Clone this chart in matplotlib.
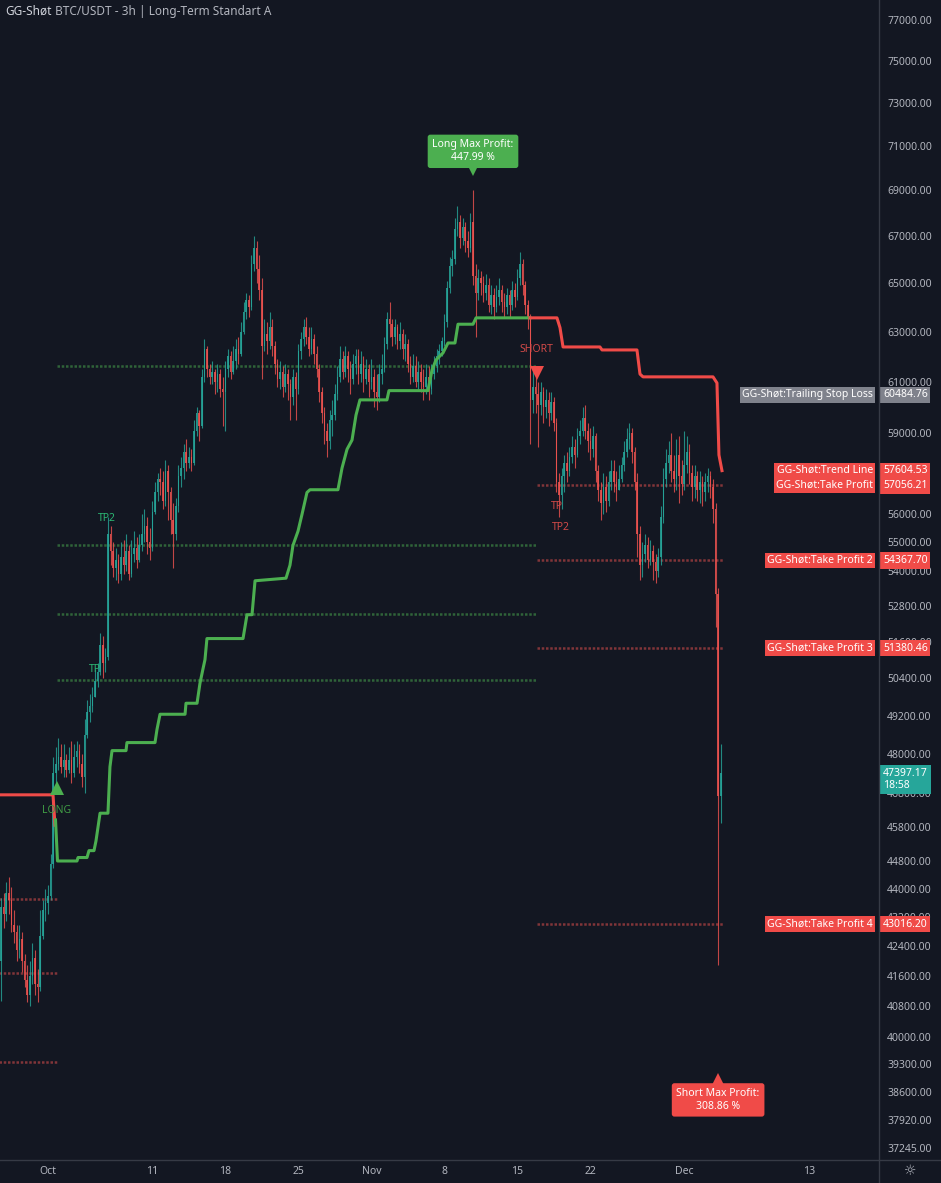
import matplotlib
matplotlib.use("Agg")
import matplotlib.pyplot as plt
import matplotlib.transforms as mtransforms
from matplotlib.lines import Line2D
from matplotlib.ticker import NullLocator
import numpy as np

plt.rcParams['font.family'] = ['Noto Sans', 'DejaVu Sans']

BG = '#131722'
UP = '#26a69a'
DN = '#ef5350'
GREEN = '#4caf50'
RED = '#f04b48'
TXT = '#b2b5be'
GRAY_LBL = '#7f828c'

# 6h candles, x = days since Oct 1 00:00, first candle Sep 26 12:00
first_day = -4.5
step = 0.25
first_open = 42000
closes = [
    43500, 43300,
    43900, 43700, 43000, 42800,
    42300, 42600, 42000, 41500,
    41100, 41600, 42100, 41400,
    41300, 42700, 43400, 43600,
    43800, 44700, 47400, 47700,   # Oct 1
    47900, 47600, 47800, 47500,
    47800, 47400, 47900, 48100,
    47700, 47300, 48600, 49300,
    49500, 49800, 50300, 50600,
    51500, 50900, 51100, 55300,
    54700, 54100, 54400, 53900,
    54500, 54200, 54700, 53900,
    54600, 54800, 54400, 54900,
    55300, 55600, 55000, 54800,
    56100, 56800, 57300, 57200,   # Oct 11
    56500, 57600, 56800, 55800,
    55300, 56300, 57400, 57700,
    58300, 57900, 58100, 57900,
    59100, 59800, 59300, 61200,
    62300, 61500, 61200, 61400,
    61000, 61300, 60700, 60600,
    61500, 62000, 61400, 61800,
    62300, 62100, 63000, 63800,
    64300, 64000, 65800, 66500,
    65600, 64700, 62400, 62900,   # Oct 21
    62600, 63200, 62400, 61700,
    61100, 61400, 60800, 61300,
    60900, 60400, 61200, 60700,
    62200, 62700, 63200, 62800,
    62300, 62700, 62100, 61500,
    60600, 59800, 59100, 58700,
    59500, 59700, 60500, 61200,
    61900, 61400, 62000, 61500,
    61100, 61700, 62000, 61300,
    61700, 61100, 61500, 61000,
    61200, 60600, 60400, 61300,   # Nov 1
    61500, 62500, 63500, 63300,
    62800, 63200, 62600, 62900,
    62300, 62500, 61700, 61200,
    61600, 61000, 61400, 61000,
    60800, 61200, 60700, 61300,
    61600, 62000, 62200, 62600,
    63400, 64800, 65700, 66000,
    67300, 67600, 66900, 67400,
    66800, 66500, 67600, 65300,
    64600, 65200, 65000, 64600,   # Nov 11
    64900, 64100, 64500, 64000,
    64400, 64700, 64200, 64000,
    64500, 64100, 64700, 64400,
    65200, 65800, 64900, 64100,
    63500, 60300, 60800, 60500,
    60100, 60600, 60000, 60300,
    59800, 60200, 59400, 57200,
    56700, 57400, 57900, 57600,
    58100, 58500, 58200, 58900,
    59100, 59600, 59100, 58700,   # Nov 21
    58400, 58900, 57600, 56900,
    56400, 57000, 56500, 57200,
    57600, 57200, 56900, 57300,
    57800, 58300, 58800, 59000,
    58300, 57200, 55300, 54200,
    54600, 54900, 54400, 54700,
    54300, 54000, 54500, 55900,
    57300, 57900, 58200, 57600,
    57300, 58200, 57400, 57100,
    57800, 58300, 57500, 57000,   # Dec 1
    57400, 56900, 57200, 56800,
    57200, 57400, 57000, 56200,
    53200, 46700, 47397.17,
]
highs = [
    43750, 43900,
    44200, 44350, 44050, 43400,
    43000, 43000, 42800, 42200,
    41900, 42000, 42500, 42300,
    41800, 43400, 43700, 44000,
    44100, 45000, 47900, 48200,
    48500, 48300, 48300, 48000,
    48200, 48400, 48300, 48400,
    48300, 48000, 49100, 49700,
    49900, 50100, 50700, 50900,
    51900, 51800, 51400, 55900,
    55600, 55000, 54800, 54600,
    55000, 55100, 55300, 54900,
    55100, 55400, 55200, 55300,
    56000, 56200, 55900, 55500,
    56500, 57200, 57500, 57700,
    57600, 58000, 57800, 57000,
    56400, 56600, 57800, 58100,
    58600, 58800, 58500, 58400,
    59500, 60000, 59900, 61500,
    62700, 62400, 61700, 61800,
    61500, 61700, 61500, 61200,
    61800, 62300, 62200, 62400,
    62700, 62800, 63400, 64200,
    64600, 64500, 66200, 67000,
    66800, 66200, 65200, 63500,
    63400, 63800, 63500, 62600,
    61900, 61800, 61600, 61700,
    61500, 61100, 61500, 61400,
    62500, 63000, 63500, 63600,
    63200, 63200, 62900, 62400,
    61700, 60800, 60000, 59400,
    59900, 60300, 60900, 61600,
    62400, 62200, 62400, 62200,
    61800, 62100, 62300, 62300,
    62200, 62000, 61900, 61700,
    61900, 61500, 61300, 61700,
    62100, 62800, 63800, 64200,
    63500, 63500, 63300, 63400,
    63100, 62900, 62700, 62000,
    62100, 62000, 61800, 61700,
    61500, 61700, 61600, 61700,
    62000, 62300, 62500, 62800,
    63700, 65100, 66100, 66400,
    67800, 68300, 67900, 67800,
    67600, 67200, 68000, 69000,
    65800, 65600, 65500, 65300,
    65400, 65200, 64900, 64800,
    64900, 65200, 64900, 64600,
    64800, 64700, 65100, 65000,
    65600, 66300, 66000, 65100,
    64300, 63700, 61500, 61200,
    61000, 61000, 60800, 60700,
    60600, 60600, 60400, 59600,
    57500, 57700, 58200, 58300,
    58500, 58900, 58800, 59200,
    59500, 60000, 60100, 59400,
    59200, 59300, 59000, 57800,
    57200, 57500, 57400, 57600,
    58000, 58000, 57600, 57800,
    58100, 58700, 59200, 59400,
    59200, 58500, 57500, 55600,
    55000, 55300, 55200, 55100,
    54900, 54600, 54800, 56300,
    57700, 58400, 58700, 59000,
    58200, 58800, 58900, 58000,
    59100, 58900, 58600, 57800,
    57800, 57600, 57600, 57400,
    57500, 57700, 57600, 57300,
    56400, 53400, 48300,
]
lows = [
    40950, 42900,
    43100, 43300, 42800, 42500,
    42000, 42100, 41700, 41300,
    40900, 40800, 41400, 41100,
    40900, 41200, 42600, 43100,
    43300, 43700, 44600, 47000,
    47500, 47400, 47300, 47300,
    47400, 47100, 47300, 47600,
    47400, 47000, 46800, 48500,
    49000, 49300, 49800, 50100,
    50500, 50400, 50600, 51000,
    54200, 53800, 53700, 53600,
    53700, 53900, 54000, 53700,
    53800, 54300, 54100, 54300,
    54700, 55000, 54600, 54400,
    54700, 56000, 56500, 56700,
    56200, 56300, 55800, 55300,
    54100, 55100, 56100, 57000,
    57300, 57600, 57700, 57600,
    57800, 58900, 58700, 59200,
    61000, 61200, 60900, 60900,
    60500, 60600, 60400, 59300,
    59100, 61200, 61100, 61300,
    61500, 61700, 62000, 62900,
    63500, 63600, 63900, 65500,
    65000, 64300, 61100, 62200,
    62100, 62300, 62000, 61300,
    60800, 60700, 60400, 60600,
    60300, 59500, 60100, 59500,
    60500, 61900, 62400, 62500,
    62000, 62100, 61700, 61200,
    60200, 59400, 58600, 58100,
    58400, 58900, 59500, 60300,
    61000, 61100, 61200, 61000,
    60500, 60900, 61300, 60900,
    61000, 60600, 60900, 60400,
    60700, 60000, 59900, 60200,
    60900, 61400, 62300, 62800,
    62400, 62500, 62300, 62300,
    61900, 61800, 61400, 60900,
    61000, 60800, 60700, 60600,
    60300, 60500, 60300, 60500,
    61100, 61400, 61700, 62000,
    62400, 63200, 64600, 65300,
    65800, 67000, 66500, 66600,
    66300, 66100, 66300, 64900,
    62800, 64300, 64500, 64200,
    64300, 63800, 63700, 63500,
    63800, 64100, 63800, 63600,
    63700, 63600, 63900, 64000,
    64300, 64900, 64500, 63700,
    63100, 58600, 59800, 59800,
    58500, 59700, 59400, 59600,
    59300, 59500, 59100, 56800,
    55900, 56200, 56800, 57200,
    57400, 57900, 57700, 58100,
    58600, 58900, 58800, 58300,
    58000, 58100, 57200, 56500,
    55800, 56000, 56100, 56300,
    56900, 56800, 56500, 56900,
    57200, 57600, 58100, 58400,
    57900, 56900, 54500, 53700,
    53800, 54300, 54100, 54200,
    53700, 53600, 53800, 54200,
    55700, 57000, 57500, 57200,
    56800, 56900, 56400, 56700,
    56900, 57500, 57100, 56500,
    56600, 56500, 56400, 56300,
    56500, 56800, 56600, 55700,
    52100, 41900, 45900,
]

# trend line (trailing stop) break points: day, price
red_pre_days = [-4.7, 0.48, 0.68]
red_pre_vals = [46750, 46750, 45800]
green_days = [0.72, 0.91, 2.78, 2.88, 3.74, 3.93, 4.41, 4.60, 4.99, 5.75, 5.94, 6.14,
              7.48, 7.57, 10.26, 10.45, 10.74, 13.14, 13.23, 14.29, 14.57, 14.86,
              15.05, 15.24, 18.70, 19.08, 19.56, 19.85, 22.82, 23.20, 23.49, 23.97,
              24.35, 24.83, 25.12, 27.80, 28.19, 28.67, 29.15, 29.53, 29.91, 32.50,
              32.69, 36.43, 36.82, 37.20, 37.87, 38.35, 39.02, 39.31, 40.75, 41.04, 46.21]
green_vals = [46000, 44800, 44800, 44900, 44900, 45100, 45100, 45380, 46200, 46200, 47600, 48100,
              48100, 48350, 48350, 48760, 49240, 49240, 49590, 49590, 50230, 50700,
              51000, 51700, 51700, 52500, 52500, 53660, 53750, 54200, 54900, 55400,
              56000, 56800, 56900, 56900, 57700, 58400, 58750, 59700, 60290, 60290,
              60650, 60650, 61460, 61860, 62140, 62540, 62540, 63300, 63300, 63560, 63560]
red_post_days = [46.21, 48.80, 49.09, 49.38, 52.92, 53.12, 56.47, 56.76, 57.05, 63.76, 64.14, 64.33, 64.62]
red_post_vals = [63560, 63560, 63160, 62380, 62380, 62260, 62260, 61300, 61190, 61190, 60950, 58190, 57604.53]

long_entry_day = 0.86
short_entry_day = 46.88
end_day = 64.7
long_tp = [61620, 54918, 52523, 50343]
prev_short_tp = [43722, 41680, 39363]
short_tp = [57056.21, 54367.70, 51380.46, 43016.20]

side_labels = [
    ("GG-Shøt:Trailing Stop Loss", 60484.76, GRAY_LBL),
    ("GG-Shøt:Trend Line", 57604.53, RED),
    ("GG-Shøt:Take Profit", 57056.21, RED),
    ("GG-Shøt:Take Profit 2", 54367.70, RED),
    ("GG-Shøt:Take Profit 3", 51380.46, RED),
    ("GG-Shøt:Take Profit 4", 43016.20, RED),
]
last_price = 47397.17
countdown = "18:58"

# 57000 sits under the take-profit label in the reference, so it is left out
price_ticks = [77000, 75000, 73000, 71000, 69000, 67000, 65000, 63000, 61000, 59000,
               56000, 55000, 54000, 52800, 51600, 50400, 49200, 48000, 46800,
               45800, 44800, 44000, 43200, 42400, 41600, 40800, 40000, 39300, 38600,
               37920, 37245]
date_ticks = [0, 10, 17, 24, 31, 38, 45, 52, 61, 73]
date_labels = ['Oct', '11', '18', '25', 'Nov', '8', '15', '22', 'Dec', '13']

# ---------------------------------------------------------------
W, H = 941, 1183
fig = plt.figure(figsize=(W / 100, H / 100), dpi=100, facecolor=BG)
ax = fig.add_axes([0, 23 / H, 878 / W, 1160 / H])
ax.set_facecolor(BG)
ax.set_yscale('log')
ax.set_xlim(-4.602, 79.58)
ax.set_ylim(36953, 77998)
for s in ax.spines.values():
    s.set_visible(False)

ax.yaxis.tick_right()
ax.set_yticks(price_ticks)
ax.set_yticklabels([f'{v:.2f}' for v in price_ticks])
ax.yaxis.set_minor_locator(NullLocator())
ax.tick_params(axis='y', length=0, pad=6.5, labelsize=7.5, labelcolor=TXT)
ax.set_xticks(date_ticks)
ax.set_xticklabels(date_labels)
ax.tick_params(axis='x', length=0, pad=4, labelsize=7.5, labelcolor=TXT)

# candles
c = np.array(closes, dtype=float)
h = np.array(highs, dtype=float)
l = np.array(lows, dtype=float)
o = np.r_[first_open, c[:-1]]
x = first_day + step * np.arange(len(c))
cols = np.where(c >= o, UP, DN)
ax.vlines(x, l, h, colors=cols, lw=0.8, alpha=0.8, zorder=2)
body = np.maximum(np.abs(c - o), c * 0.0008)
ax.bar(x, body, bottom=np.minimum(o, c), width=0.15, color=cols, alpha=0.85, zorder=2, lw=0)

# take-profit dotted levels
dots = (0, (1, 0.7))
for v in long_tp:
    ax.hlines(v, long_entry_day, short_entry_day, colors=GREEN, lw=1.8, ls=dots, alpha=0.5, zorder=1.5)
for v in prev_short_tp:
    ax.hlines(v, -4.7, long_entry_day, colors=DN, lw=1.8, ls=dots, alpha=0.5, zorder=1.5)
for v in short_tp:
    ax.hlines(v, short_entry_day, end_day, colors=DN, lw=1.8, ls=dots, alpha=0.5, zorder=1.5)

# trend lines
ax.plot(red_pre_days, red_pre_vals, color=RED, lw=2.2, zorder=3, solid_capstyle='butt')
ax.plot(green_days, green_vals, color=GREEN, lw=2.2, zorder=3)
ax.plot(red_post_days, red_post_vals, color=RED, lw=2.2, zorder=3)

# signals
ax.plot([long_entry_day], [46950], marker='^', ms=10, color=GREEN, mew=0, zorder=4)
ax.text(long_entry_day, 46270, 'LONG', color='#3f9a44', fontsize=7.5, ha='center', va='center', zorder=4)
ax.plot([short_entry_day], [61350], marker='v', ms=10, color=RED, mew=0, zorder=4)
ax.text(short_entry_day - 0.1, 62260, 'SHORT', color='#d14a48', fontsize=7.5, ha='center', va='center', zorder=4)
for dd, pv, t, colr in [(4.5, 50670, 'TP', '#2bb673'), (5.66, 55860, 'TP2', '#2bb673'),
                        (48.8, 56300, 'TP', '#d14a48'), (49.2, 55550, 'TP2', '#d14a48')]:
    ax.text(dd, pv, t, color=colr, fontsize=7.5, ha='center', va='center', zorder=4)

# max profit callouts: highest high of the long, lowest low of the short
imax = int(np.argmax(h))
short_part = x >= short_entry_day
imin = int(np.flatnonzero(short_part)[np.argmin(l[short_part])])


def callout(xd, yd, text, colr, tri_dy, box_dy, marker):
    tr = mtransforms.offset_copy(ax.transData, fig=fig, x=0, y=tri_dy, units='dots')
    ax.plot([xd], [yd], marker=marker, ms=8, color=colr, mew=0, transform=tr, zorder=6, clip_on=False)
    tb = mtransforms.offset_copy(ax.transData, fig=fig, x=0, y=box_dy, units='dots')
    ax.text(xd, yd, text, transform=tb, ha='center', va='center', color='white', fontsize=7.5,
            fontweight='bold', linespacing=1.25, zorder=7,
            bbox=dict(boxstyle='round,pad=0.45,rounding_size=0.25', fc=colr, ec='none'))


callout(x[imax], h[imax], 'Long Max Profit:\n447.99 %', GREEN, 20, 39, 'v')
callout(x[imin], l[imin], 'Short Max Profit:\n308.86 %', RED, -114, -135, '^')

# right-side labels
bt = mtransforms.blended_transform_factory(fig.transFigure, ax.transData)
for txt, val, colr in side_labels:
    ax.text(873 / W, val, txt, transform=bt, ha='right', va='center', fontsize=7.5, color='white',
            zorder=8, clip_on=False, bbox=dict(boxstyle='square,pad=0.22', fc=colr, ec='none'))
    ax.text(883 / W, val, f'{val:.2f}', transform=bt, ha='left', va='center', fontsize=7.5, color='white',
            zorder=8, clip_on=False, bbox=dict(boxstyle='square,pad=0.25', fc=colr, ec='none'))
lt = mtransforms.blended_transform_factory(fig.transFigure,
                                           mtransforms.offset_copy(ax.transData, fig=fig, x=0, y=-6, units='dots'))
ax.text(883 / W, last_price, f'{last_price:.2f}\n{countdown}', transform=lt, ha='left', va='center',
        fontsize=7.5, color='white', linespacing=1.2, zorder=8, clip_on=False,
        bbox=dict(boxstyle='square,pad=0.3', fc=UP, ec='none'))

# title
t1 = fig.text(5 / W, 1 - 11 / H, 'GG-Shøt', color='#d1d4dc', fontsize=8.5, fontweight='bold',
              ha='left', va='center')
ax.annotate(' BTC/USDT - 3h | Long-Term Standart A', xy=(1, 0.5), xycoords=t1, va='center', ha='left',
            color=TXT, fontsize=8.5, annotation_clip=False)

# scale separators and gear
fig.add_artist(Line2D([878.5 / W, 878.5 / W], [0, 1], color='#363a45', lw=1, transform=fig.transFigure))
fig.add_artist(Line2D([0, 1], [23 / H, 23 / H], color='#363a45', lw=1, transform=fig.transFigure))
fig.text(910 / W, 1 - 1171 / H, '☼', color=TXT, fontsize=10, ha='center', va='center', family='DejaVu Sans')

fig.savefig('out.png', dpi=100, facecolor=BG)
